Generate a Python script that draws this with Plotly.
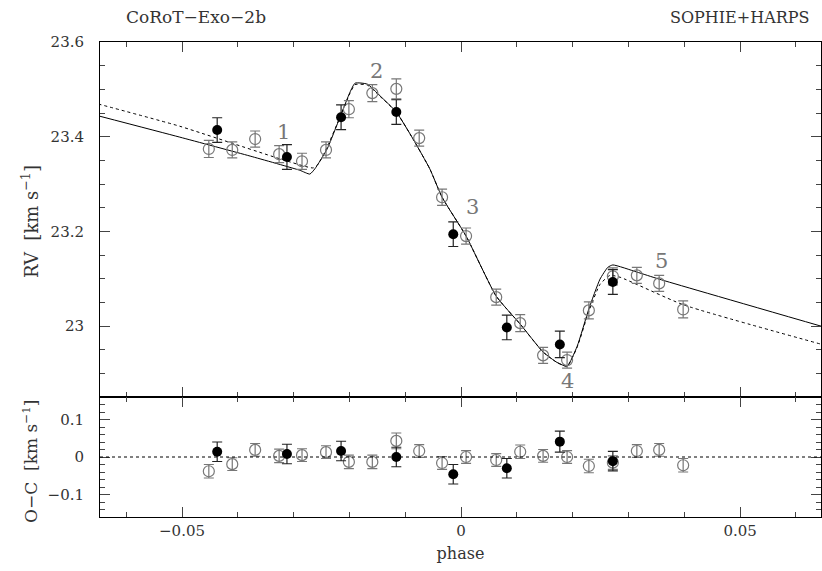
import plotly.graph_objects as go

# ---------------- data ----------------
open_phase = [-0.0452, -0.0410, -0.0369, -0.0326, -0.0285, -0.0242, -0.0201, -0.0159,
              -0.0116, -0.0075, -0.0034, 0.0009, 0.0063, 0.0106, 0.0147, 0.0190,
              0.0229, 0.0272, 0.0315, 0.0355, 0.0398]
open_rv = [23.374, 23.372, 23.395, 23.363, 23.348, 23.372, 23.458, 23.492,
           23.501, 23.397, 23.272, 23.190, 23.061, 23.006, 22.938, 22.928,
           23.033, 23.105, 23.107, 23.090, 23.035]
open_err = [0.018, 0.017, 0.017, 0.018, 0.017, 0.017, 0.018, 0.018,
            0.021, 0.017, 0.017, 0.017, 0.017, 0.018, 0.017, 0.017,
            0.018, 0.018, 0.017, 0.017, 0.018]
open_oc = [-0.038, -0.019, 0.019, 0.003, 0.005, 0.013, -0.013, -0.013,
           0.043, 0.016, -0.016, 0.000, -0.008, 0.014, 0.003, 0.000,
           -0.024, -0.015, 0.016, 0.019, -0.022]

filled_phase = [-0.0437, -0.0312, -0.0215, -0.0116, -0.0014, 0.0082, 0.0177, 0.0272]
filled_rv = [23.414, 23.357, 23.441, 23.452, 23.194, 22.997, 22.961, 23.093]
filled_err = [0.026, 0.026, 0.026, 0.026, 0.026, 0.026, 0.028, 0.026]
filled_oc = [0.014, 0.008, 0.016, 0.000, -0.046, -0.030, 0.041, -0.011]

# model curves
solid_phase = [-0.0650, -0.0504, -0.0378, -0.0289, -0.0271, -0.0262, -0.0240, -0.0217,
               -0.0199, -0.0190, -0.0168, -0.0145, -0.0116, -0.0086, -0.0056, -0.0034,
               0.0009, 0.0063, 0.0106, 0.0147, 0.0172, 0.0190, 0.0208, 0.0229,
               0.0249, 0.0263, 0.0272, 0.0315, 0.0355, 0.0650]
solid_rv = [23.444, 23.399, 23.359, 23.329, 23.321, 23.332, 23.374, 23.441,
            23.494, 23.513, 23.511, 23.486, 23.452, 23.395, 23.332, 23.272,
            23.190, 23.063, 23.004, 22.945, 22.923, 22.915, 22.957, 23.036,
            23.099, 23.124, 23.129, 23.114, 23.099, 22.998]

dotted_phase = [-0.0650, -0.0504, -0.0324, -0.0265, -0.0256, -0.0240, -0.0217,
                -0.0199, -0.0190, -0.0168, -0.0145, -0.0116, -0.0086, -0.0056, -0.0034,
                0.0009, 0.0063, 0.0106, 0.0147, 0.0172, 0.0190, 0.0208, 0.0229,
                0.0249, 0.0267, 0.0285, 0.0398, 0.0650]
dotted_rv = [23.469, 23.422, 23.353, 23.334, 23.342, 23.378, 23.441,
             23.492, 23.510, 23.509, 23.485, 23.452, 23.395, 23.332, 23.272,
             23.190, 23.063, 23.004, 22.945, 22.923, 22.915, 22.955, 23.031,
             23.088, 23.107, 23.103, 23.045, 22.960]

label_text = ["1", "2", "3", "4", "5"]
label_phase = [-0.0319, -0.0151, 0.0020, 0.0190, 0.0360]
label_rv = [23.410, 23.539, 23.251, 22.883, 23.137]

title_left = "CoRoT−Exo−2b"
title_right = "SOPHIE+HARPS"

# ---------------- figure ----------------
W, H = 822, 571
PL, PR, PT, PB = 100, 821, 42, 517          # plot area in screen pixels
ML, MR, MT, MB = PL, W - PR, PT, H - PB
plot_h = PB - PT
plot_w = PR - PL
split = (517 - 397) / plot_h

SERIF = "DejaVu Serif"
GRAY = "#777777"
TXT = "#333333"

fig = go.Figure()

fig.add_trace(go.Scatter(x=solid_phase, y=solid_rv, mode="lines",
                         line=dict(color="black", width=1, shape="spline", smoothing=0.5),
                         xaxis="x", yaxis="y", showlegend=False, hoverinfo="skip"))
fig.add_trace(go.Scatter(x=dotted_phase, y=dotted_rv, mode="lines",
                         line=dict(color="black", width=1, dash="dot", shape="spline", smoothing=0.5),
                         xaxis="x", yaxis="y", showlegend=False, hoverinfo="skip"))

fig.add_trace(go.Scatter(x=open_phase, y=open_rv, mode="markers",
                         marker=dict(symbol="circle-open", size=11, color=GRAY, line=dict(width=1.2, color=GRAY)),
                         error_y=dict(type="data", array=open_err, color=GRAY, thickness=1.2, width=5),
                         xaxis="x", yaxis="y", showlegend=False))
fig.add_trace(go.Scatter(x=filled_phase, y=filled_rv, mode="markers",
                         marker=dict(symbol="circle", size=10, color="black"),
                         error_y=dict(type="data", array=filled_err, color="#222222", thickness=1.2, width=5),
                         xaxis="x", yaxis="y", showlegend=False))

fig.add_trace(go.Scatter(x=open_phase, y=open_oc, mode="markers",
                         marker=dict(symbol="circle-open", size=11, color=GRAY, line=dict(width=1.2, color=GRAY)),
                         error_y=dict(type="data", array=open_err, color=GRAY, thickness=1.2, width=5),
                         xaxis="x2", yaxis="y2", showlegend=False))
fig.add_trace(go.Scatter(x=filled_phase, y=filled_oc, mode="markers",
                         marker=dict(symbol="circle", size=10, color="black"),
                         error_y=dict(type="data", array=filled_err, color="#222222", thickness=1.2, width=5),
                         xaxis="x2", yaxis="y2", showlegend=False))

xrange = [-0.0647, 0.0645]
tickfont = dict(family=SERIF, size=15, color=TXT)

common_x = dict(range=xrange, showline=True, linecolor="black", linewidth=1, mirror="ticks",
                ticks="inside", ticklen=10, tickwidth=1, tickcolor="#444444",
                dtick=0.05, tick0=0, showgrid=False, zeroline=False,
                minor=dict(ticks="inside", ticklen=5, dtick=0.01, tick0=0, tickcolor="#444444", showgrid=False))

fig.update_layout(
    width=W, height=H,
    margin=dict(l=ML, r=MR, t=MT, b=MB, autoexpand=False),
    paper_bgcolor="white", plot_bgcolor="white",
    xaxis=dict(common_x, domain=[0, 1], anchor="y", showticklabels=False, matches="x2"),
    xaxis2=dict(common_x, domain=[0, 1], anchor="y2", showticklabels=True, tickfont=tickfont,
                title=dict(text="phase", font=dict(family=SERIF, size=16, color=TXT), standoff=8)),
    yaxis=dict(domain=[split, 1], anchor="x", range=[22.85, 23.6], showline=True, linecolor="black",
               mirror="ticks", ticks="inside", ticklen=10, tickcolor="#444444", dtick=0.2, tick0=23,
               showgrid=False, zeroline=False, tickfont=tickfont, ticklabelstandoff=12,
               minor=dict(ticks="inside", ticklen=5, dtick=0.05, tick0=23, tickcolor="#444444", showgrid=False)),
    yaxis2=dict(domain=[0, split], anchor="x2", range=[-0.16, 0.16], showline=True, linecolor="black",
                mirror="ticks", ticks="inside", ticklen=10, tickcolor="#444444", dtick=0.1, tick0=0,
                showgrid=False, zeroline=False, tickfont=tickfont, ticklabelstandoff=12,
                minor=dict(ticks="inside", ticklen=5, dtick=0.02, tick0=0, tickcolor="#444444", showgrid=False)),
)

# zero line in residual panel
fig.add_shape(type="line", xref="x2 domain", yref="y2", x0=0, x1=1, y0=0, y1=0,
              line=dict(color="black", width=1, dash="dot"))

# numbered labels
for t, px, py in zip(label_text, label_phase, label_rv):
    fig.add_annotation(x=px, y=py, xref="x", yref="y", text=t, showarrow=False,
                       font=dict(family=SERIF, size=21, color=GRAY))

def py2paper(sy):
    return (PB - sy) / plot_h

def px2paper(sx):
    return (sx - PL) / plot_w

fig.add_annotation(x=px2paper(124), y=py2paper(17), xref="paper", yref="paper", text=title_left,
                   showarrow=False, xanchor="left", yanchor="middle",
                   font=dict(family=SERIF, size=17, color=TXT))
fig.add_annotation(x=px2paper(811), y=py2paper(17), xref="paper", yref="paper", text=title_right,
                   showarrow=False, xanchor="right", yanchor="middle",
                   font=dict(family=SERIF, size=16, color=TXT))

fig.add_annotation(x=px2paper(30), y=py2paper(222), xref="paper", yref="paper",
                   text="RV  [km s<sup>−1</sup>]", textangle=-90, showarrow=False,
                   xanchor="center", yanchor="middle", font=dict(family=SERIF, size=18, color=TXT))
fig.add_annotation(x=px2paper(30), y=py2paper(462), xref="paper", yref="paper",
                   text="O−C  [km s<sup>−1</sup>]", textangle=-90, showarrow=False,
                   xanchor="center", yanchor="middle", font=dict(family=SERIF, size=17, color=TXT))

fig.write_html("out.html", config={"displayModeBar": False},
               post_script="document.body.style.margin='0px';document.body.style.overflow='hidden';")
